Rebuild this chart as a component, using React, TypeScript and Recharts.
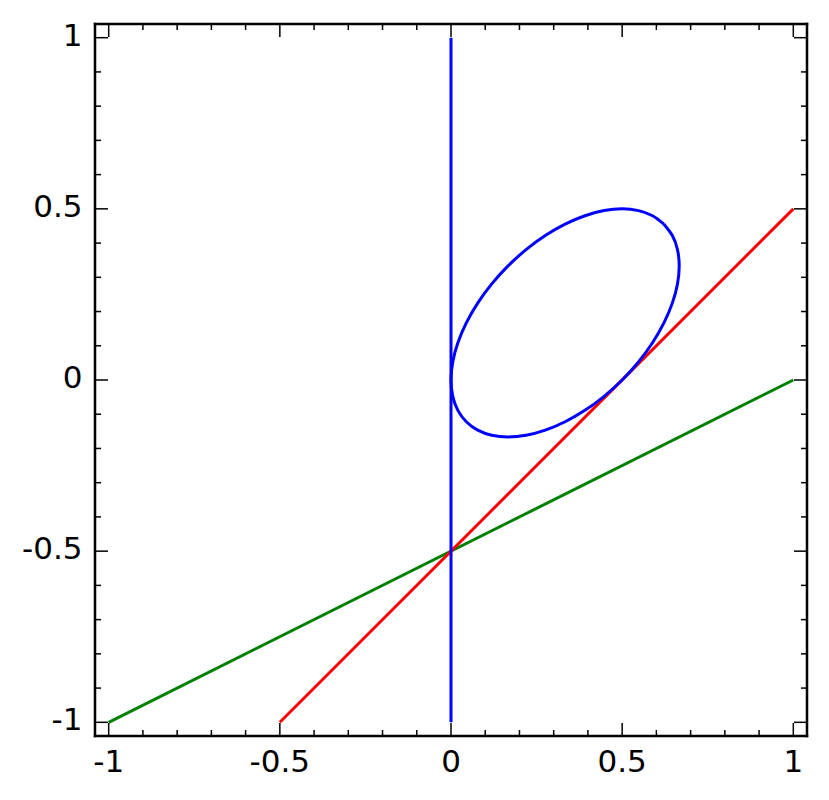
import { LineChart, Line, XAxis, YAxis } from "recharts";

// tick positions (major every 0.5, minor every 0.1)
const tickValues = [
  -1, -0.9, -0.8, -0.7, -0.6, -0.5, -0.4, -0.3, -0.2, -0.1, 0, 0.1, 0.2, 0.3,
  0.4, 0.5, 0.6, 0.7, 0.8, 0.9, 1,
];
const majorTicks = [-1, -0.5, 0, 0.5, 1];

// blue vertical segment at x = 0
const blueSegment = [
  { x: 0, y: -1 },
  { x: 0, y: 1 },
];

// blue ellipse, traced point by point
const ellipseX = [
  0.622, 0.5887, 0.5476, 0.5, 0.4473, 0.3912, 0.3333, 0.2754, 0.2193, 0.1667,
  0.1191, 0.078, 0.0447, 0.0201, 0.0051, 0, 0.0051, 0.0201, 0.0447, 0.078,
  0.1191, 0.1667, 0.2193, 0.2754, 0.3333, 0.3912, 0.4473, 0.5, 0.5476, 0.5887,
  0.622, 0.6466, 0.6616, 0.6667, 0.6616, 0.6466, 0.622,
];
const ellipseY = [
  0.4553, 0.4799, 0.4949, 0.5, 0.4949, 0.4799, 0.4553, 0.422, 0.3809, 0.3333,
  0.2807, 0.2246, 0.1667, 0.1088, 0.0527, 0, -0.0476, -0.0887, -0.122, -0.1466,
  -0.1616, -0.1667, -0.1616, -0.1466, -0.122, -0.0887, -0.0476, 0, 0.0527,
  0.1088, 0.1667, 0.2246, 0.2807, 0.3333, 0.3809, 0.422, 0.4553,
];

// red line y = x - 0.5
const redLine = [
  { x: -0.5, y: -1 },
  { x: 1, y: 0.5 },
];

// green line y = x/2 - 0.5
const greenLine = [
  { x: -1, y: -1 },
  { x: 1, y: 0 },
];

const ellipse = ellipseX.map((x, i) => ({ x, y: ellipseY[i] }));

const DOMAIN: [number, number] = [-1.04, 1.04];
const MAJOR_LEN = 13;
const MINOR_LEN = 6;
// tick props sit tickSize + tickMargin away from the axis line
const TICK_SIZE = 6;
const TICK_MARGIN = 2;
const OFF = TICK_SIZE + TICK_MARGIN;
const FONT = "'DejaVu Sans', sans-serif";
const FONT_SIZE = 31;

const isMajor = (v: number) => majorTicks.some((m) => Math.abs(m - v) < 1e-6);
const fmt = (v: number) => String(Math.round(v * 10) / 10);

const frame = {
  stroke: "#000",
  strokeWidth: 2.5,
  strokeLinecap: "square" as const,
};

const BottomTick = (props: any) => {
  const { x, payload } = props;
  const y = props.y - OFF;
  const major = isMajor(payload.value);
  return (
    <g>
      <line
        x1={x}
        y1={y}
        x2={x}
        y2={y - (major ? MAJOR_LEN : MINOR_LEN)}
        stroke="#000"
        strokeWidth={1.5}
      />
      {major && (
        <text
          x={x}
          y={y + 36}
          textAnchor="middle"
          fontFamily={FONT}
          fontSize={FONT_SIZE}
          fill="#000"
        >
          {fmt(payload.value)}
        </text>
      )}
    </g>
  );
};

const TopTick = (props: any) => {
  const { x, payload } = props;
  const y = props.y + OFF;
  const major = isMajor(payload.value);
  return (
    <line
      x1={x}
      y1={y}
      x2={x}
      y2={y + (major ? MAJOR_LEN : MINOR_LEN)}
      stroke="#000"
      strokeWidth={1.5}
    />
  );
};

const LeftTick = (props: any) => {
  const { y, payload } = props;
  const x = props.x + OFF;
  const major = isMajor(payload.value);
  return (
    <g>
      <line
        x1={x}
        y1={y}
        x2={x + (major ? MAJOR_LEN : MINOR_LEN)}
        y2={y}
        stroke="#000"
        strokeWidth={1.5}
      />
      {major && (
        <text
          x={x - 12.5}
          y={y + 8}
          textAnchor="end"
          fontFamily={FONT}
          fontSize={FONT_SIZE}
          fill="#000"
        >
          {fmt(payload.value)}
        </text>
      )}
    </g>
  );
};

const RightTick = (props: any) => {
  const { y, payload } = props;
  const x = props.x - OFF;
  const major = isMajor(payload.value);
  return (
    <line
      x1={x}
      y1={y}
      x2={x - (major ? MAJOR_LEN : MINOR_LEN)}
      y2={y}
      stroke="#000"
      strokeWidth={1.5}
    />
  );
};

const lineProps = {
  strokeWidth: 3,
  dot: false,
  activeDot: false,
  isAnimationActive: false,
  dataKey: "y",
};

export default function App() {
  return (
    <div style={{ position: "absolute", left: 0, top: 0, background: "#fff" }}>
      <LineChart
        width={829}
        height={800}
        margin={{ top: 23, right: 21, bottom: 0, left: 0 }}
      >
        <XAxis
          xAxisId="b"
          orientation="bottom"
          type="number"
          dataKey="x"
          domain={DOMAIN}
          allowDataOverflow
          ticks={tickValues}
          interval={0}
          height={64}
          tickSize={TICK_SIZE}
          tickMargin={TICK_MARGIN}
          tickLine={false}
          axisLine={frame}
          tick={<BottomTick />}
        />
        <XAxis
          xAxisId="t"
          orientation="top"
          type="number"
          dataKey="x"
          domain={DOMAIN}
          allowDataOverflow
          ticks={tickValues}
          interval={0}
          height={1}
          tickSize={TICK_SIZE}
          tickMargin={TICK_MARGIN}
          tickLine={false}
          axisLine={frame}
          tick={<TopTick />}
        />
        <YAxis
          yAxisId="l"
          orientation="left"
          type="number"
          dataKey="y"
          domain={DOMAIN}
          allowDataOverflow
          ticks={tickValues}
          interval={0}
          width={95}
          tickSize={TICK_SIZE}
          tickMargin={TICK_MARGIN}
          tickLine={false}
          axisLine={frame}
          tick={<LeftTick />}
        />
        <YAxis
          yAxisId="r"
          orientation="right"
          type="number"
          dataKey="y"
          domain={DOMAIN}
          allowDataOverflow
          ticks={tickValues}
          interval={0}
          width={1}
          tickSize={TICK_SIZE}
          tickMargin={TICK_MARGIN}
          tickLine={false}
          axisLine={frame}
          tick={<RightTick />}
        />
        <Line
          {...lineProps}
          xAxisId="b"
          yAxisId="l"
          data={greenLine}
          stroke="#008000"
        />
        <Line
          {...lineProps}
          xAxisId="t"
          yAxisId="r"
          data={redLine}
          stroke="#ff0000"
        />
        <Line
          {...lineProps}
          xAxisId="b"
          yAxisId="l"
          data={blueSegment}
          stroke="#0000ff"
        />
        <Line
          {...lineProps}
          xAxisId="b"
          yAxisId="l"
          type="natural"
          data={ellipse}
          stroke="#0000ff"
        />
      </LineChart>
    </div>
  );
}
